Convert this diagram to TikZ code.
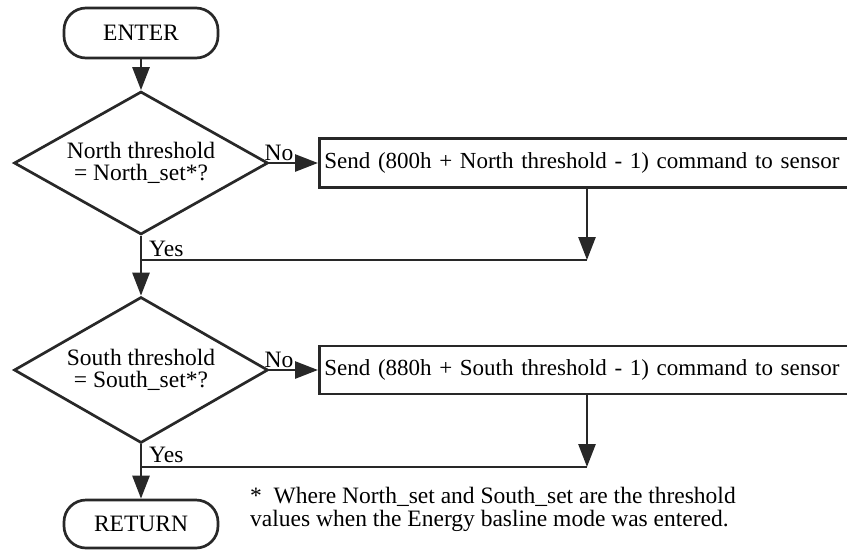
\documentclass[tikz,border=0pt]{standalone}
\usepackage{fontspec}
\setmainfont{Liberation Serif}
\usetikzlibrary{shapes.geometric,arrows.meta}
\definecolor{ink}{RGB}{40,40,40}
\begin{document}
\begin{tikzpicture}[x=1pt,y=-1pt,
  every node/.style={font=\fontsize{23.5}{22.5}\selectfont, text=black},
  conn/.style={draw=ink, line width=2.7pt},
  arr/.style={conn, -{Triangle[length=23pt,width=17pt]}},
  terminal/.style={draw=ink, line width=2.7pt, rectangle, rounded corners=22pt, minimum width=154pt, minimum height=50pt, inner sep=0pt},
  decision/.style={draw=ink, line width=2.7pt, diamond, aspect=1.78, minimum width=254pt, minimum height=143pt, inner sep=0pt, align=center},
  process/.style={draw=ink, line width=2.7pt, rectangle, anchor=west, minimum height=49pt, text width=560pt, inner xsep=5pt, align=left, font=\fontsize{23}{22.5}\selectfont},
  lbl/.style={inner sep=0pt, anchor=base west},
]
\useasboundingbox (0,0) rectangle (847,550);
\begin{scope}
\clip (0,0) rectangle (847,550);

\node[terminal] (enter) at (141,33) {ENTER};
\node[decision] (d1) at (141,163) {North threshold\\= North\_set*?};
\node[process] (b1) at (318,163) {Send (800h + North threshold - 1) command to sensor};
\coordinate (m1) at (587,260);

\node[decision, minimum height=146pt] (d2) at (141,370) {South threshold\\= South\_set*?};
\node[process, minimum height=48pt] (b2) at (318,370) {Send (880h + South threshold - 1) command to sensor};
\coordinate (m2) at (587,467);

\node[terminal, minimum height=48pt] (ret) at (141,524) {RETURN};

\node[lbl, anchor=base] (no1) at (279,160) {No};
\node[lbl] (yes1) at (149,256) {Yes};
\node[lbl, anchor=base] (no2) at (279,367) {No};
\node[lbl] (yes2) at (149,462) {Yes};

\node[lbl] (fn1) at (250,503) {*~ Where North\_set and South\_set are the threshold};
\node[lbl] (fn2) at (250,526) {values when the Energy basline mode was entered.};

\draw[arr] (enter.south) -- (d1.north);
\draw[arr] (d1.east) -- (b1.west);
\draw[arr] (b1.south -| m1) -- (m1);
\draw[conn] (m1) -- (d1.south |- m1);
\draw[arr] (d1.south) -- (d2.north);

\draw[arr] (d2.east) -- (b2.west);
\draw[arr] (b2.south -| m2) -- (m2);
\draw[conn] (m2) -- (d2.south |- m2);
\draw[arr] (d2.south) -- (ret.north);
\end{scope}
\end{tikzpicture}
\end{document}
